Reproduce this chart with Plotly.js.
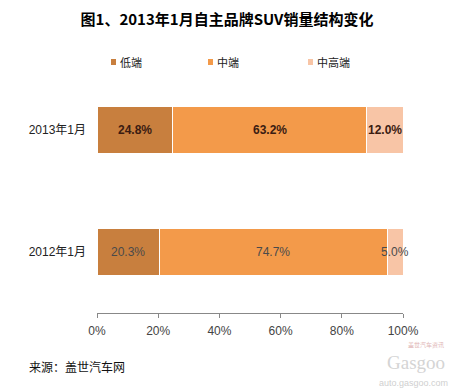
<!DOCTYPE html>
<html><head><meta charset="utf-8">
<script src="https://cdn.plot.ly/plotly-3.0.1.min.js"></script>
<style>html,body{margin:0;padding:0;background:#fff}</style>
</head><body>
<div id="chart" style="width:454px;height:389px"></div>
<script>
const categories = ["2012年1月", "2013年1月"];
const seriesNames = ["低端", "中端", "中高端"];
const low = [20.3, 24.8];
const mid = [74.7, 63.2];
const high = [5.0, 12.0];
const tickVals = [0, 20, 40, 60, 80, 100];
const tickText = ["0%", "20%", "40%", "60%", "80%", "100%"];

const colors = ["#C87F3E", "#F39A4A", "#F8C5A6"];
const FONT = "Liberation Sans, Arial, Noto Sans CJK SC, sans-serif";
const CJK = "Noto Sans CJK SC, sans-serif";
const series = [low, mid, high];

const W = 454, H = 389, ML = 97, MR = 51, MT = 69, MB = 76;
const PW = W - ML - MR, PH = H - MT - MB;
const px = x => (x - ML) / PW;
const py = y => (H - MB - y) / PH;

const traces = series.map((vals, i) => ({
  type: "bar", orientation: "h", y: categories, x: vals, name: seriesNames[i],
  marker: {color: colors[i], line: {color: "#ffffff", width: 1}},
  showlegend: false, hoverinfo: "skip"
}));

const annotations = [];
const shapes = [];
categories.forEach((c, ci) => {
  let cum = 0;
  series.forEach((vals, si) => {
    const v = vals[ci];
    const bold = ci === 1;
    annotations.push({
      x: cum + v / 2, y: c, xref: "x", yref: "y", showarrow: false,
      text: bold ? "<b>" + v.toFixed(1) + "%</b>" : v.toFixed(1) + "%",
      font: {family: FONT, size: 12, color: bold ? "#3b1c12" : "#4a4a4a"}
    });
    cum += v;
  });
});
// manual legend
const legendX = [111, 208, 308];
seriesNames.forEach((n, i) => {
  shapes.push({type: "rect", xref: "paper", yref: "paper",
    x0: px(legendX[i]), x1: px(legendX[i] + 5), y0: py(65), y1: py(59),
    fillcolor: colors[i], line: {width: 0}});
  annotations.push({xref: "paper", yref: "paper", x: px(legendX[i] + 7), y: py(62),
    xanchor: "left", yanchor: "middle", showarrow: false, text: n,
    font: {family: CJK, size: 11, color: "#222"}});
});
annotations.push({
  xref: "paper", yref: "paper", x: px(27), y: py(366), xanchor: "left", yanchor: "middle",
  showarrow: false, text: "来源：盖世汽车网", font: {family: CJK, size: 12, color: "#111"}
});
annotations.push({
  xref: "paper", yref: "paper", x: px(446), y: py(344), xanchor: "right", yanchor: "middle",
  showarrow: false, text: "盖世汽车资讯", font: {family: CJK, size: 6, color: "#e0b5b5"}
});
annotations.push({
  xref: "paper", yref: "paper", x: px(447), y: py(362), xanchor: "right", yanchor: "middle",
  showarrow: false, text: "Gasgoo", font: {family: "Liberation Serif, serif", size: 19, color: "#d4d4d4"}
});
annotations.push({
  xref: "paper", yref: "paper", x: px(450), y: py(383), xanchor: "right", yanchor: "middle",
  showarrow: false, text: "auto.gasgoo.com", font: {family: FONT, size: 9, color: "#cfcfcf"}
});

const layout = {
  width: W, height: H,
  margin: {l: ML, r: MR, t: MT, b: MB},
  paper_bgcolor: "#ffffff", plot_bgcolor: "#ffffff",
  barmode: "stack", bargap: 0.62,
  title: {text: "<b>图1、2013年1月自主品牌SUV销量结构变化</b>", x: 0.5, xanchor: "center", xref: "container",
    y: 1 - 20 / H, yref: "container", yanchor: "middle",
    font: {family: CJK, size: 15, color: "#000"}},
  xaxis: {range: [0, 100], tickvals: tickVals, ticktext: tickText, showgrid: false, zeroline: false,
    showline: true, linecolor: "#888", linewidth: 1, ticks: "outside", ticklen: 4, tickcolor: "#888",
    ticklabelstandoff: 3,
    tickfont: {family: FONT, size: 12, color: "#444"}, fixedrange: true, automargin: false},
  yaxis: {range: [-0.5, 1.5], showgrid: false, zeroline: false, showline: false, ticks: "", ticklen: 0,
    ticklabelstandoff: 10,
    tickfont: {family: FONT, size: 12, color: "#222"}, automargin: false, fixedrange: true},
  showlegend: false,
  shapes: shapes,
  annotations: annotations
};
Plotly.newPlot("chart", traces, layout, {staticPlot: true, displayModeBar: false});
</script>
</body></html>
